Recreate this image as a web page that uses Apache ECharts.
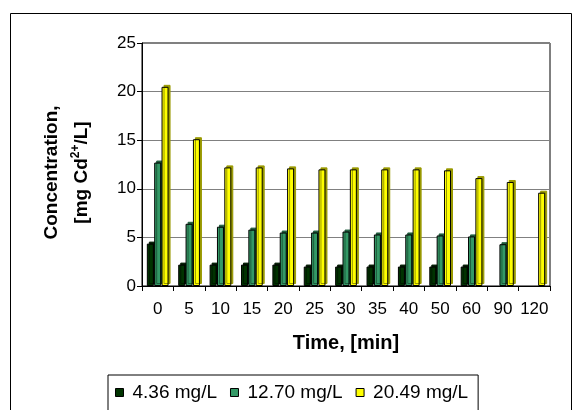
<!DOCTYPE html>
<html>
<head>
<meta charset="utf-8">
<script src="https://cdn.jsdelivr.net/npm/echarts@6/dist/echarts.min.js"></script>
<style>
  html, body { margin: 0; padding: 0; background: #fff; }
  #main { width: 572px; height: 410px; }
</style>
</head>
<body>
<div id="main"></div>
<script>
// time points, [min]
var times = ["0", "5", "10", "15", "20", "25", "30", "35", "40", "50", "60", "90", "120"];
var seriesNames = ["4.36 mg/L", "12.70 mg/L", "20.49 mg/L"];
// Cd2+ concentration, mg/L
var low = [4.36, 2.2, 2.2, 2.2, 2.2, 2.0, 2.0, 2.0, 2.0, 2.0, 2.0, null, null];
var mid = [12.7, 6.4, 6.1, 5.8, 5.5, 5.5, 5.6, 5.3, 5.3, 5.2, 5.1, 4.3, null];
var high = [20.49, 15.1, 12.2, 12.2, 12.1, 12.0, 12.0, 12.0, 12.0, 11.9, 11.1, 10.7, 9.6];
var yTicks = [0, 5, 10, 15, 20, 25];

var colors = ["#003300", "#339966", "#ffff00"];
var sideColors = ["#001a00", "#1f5c3d", "#999900"];

var chartDom = document.getElementById("main");
var myChart = echarts.init(chartDom, null, { renderer: "canvas" });

function bar(name, data, i) {
  return {
    name: name,
    type: "bar",
    data: data,
    barWidth: 7,
    barGap: "5%",
    itemStyle: {
      color: colors[i],
      borderColor: "#000",
      borderWidth: 1,
      shadowColor: sideColors[i],
      shadowBlur: 0,
      shadowOffsetX: 2,
      shadowOffsetY: -2
    }
  };
}

var option = {
  animation: false,
  backgroundColor: "#fff",
  textStyle: { fontFamily: "Liberation Sans, Arial, sans-serif" },
  color: colors,
  graphic: [
    {
      type: "rect",
      left: 8,
      top: 11,
      shape: { width: 561, height: 420 },
      style: { fill: "none", stroke: "#000", lineWidth: 1 },
      silent: true
    }
  ],
  grid: {
    left: 142,
    right: 22,
    top: 43,
    bottom: 124,
    show: true,
    borderColor: "#000",
    borderWidth: 1,
    backgroundColor: "#fff"
  },
  legend: {
    data: seriesNames,
    left: 108,
    top: 375,
    orient: "horizontal",
    itemWidth: 8,
    itemHeight: 8,
    itemGap: 13,
    padding: [8, 10, 30, 7],
    borderColor: "#000",
    borderWidth: 1,
    icon: "rect",
    itemStyle: { borderColor: "#000", borderWidth: 1 },
    textStyle: { fontSize: 19, color: "#000", padding: [0, 0, 0, 4] }
  },
  xAxis: {
    type: "category",
    data: times,
    boundaryGap: true,
    name: "Time, [min]",
    nameLocation: "middle",
    nameGap: 47,
    nameTextStyle: { fontSize: 20, fontWeight: "bold", color: "#000" },
    axisLine: { lineStyle: { color: "#000", width: 1 } },
    axisTick: { show: true, length: 5, lineStyle: { color: "#000" } },
    axisLabel: { fontSize: 17, color: "#000", margin: 15, interval: 0, hideOverlap: false },
    splitLine: { show: false }
  },
  yAxis: {
    type: "value",
    min: yTicks[0],
    max: yTicks[yTicks.length - 1],
    interval: 5,
    name: "{b|Concentration,}\n{b|[mg Cd}{sup|2+}{b|/L]}",
    nameLocation: "middle",
    nameRotate: 90,
    nameGap: 45,
    nameTextStyle: {
      color: "#000",
      padding: [0, 16, 0, 0],
      rich: {
        b: { fontSize: 19, fontWeight: "bold", color: "#000", lineHeight: 30 },
        sup: { fontSize: 12, fontWeight: "bold", color: "#000", verticalAlign: "top", padding: [3, 0, 0, 0] }
      }
    },
    axisLine: { show: true, lineStyle: { color: "#000", width: 1 } },
    axisTick: { show: true, length: 5, lineStyle: { color: "#000" } },
    axisLabel: { fontSize: 17, color: "#000", margin: 6 },
    splitLine: { show: true, lineStyle: { color: "#808080", width: 1 } }
  },
  series: [
    bar(seriesNames[0], low, 0),
    bar(seriesNames[1], mid, 1),
    bar(seriesNames[2], high, 2)
  ]
};

myChart.setOption(option);
</script>
</body>
</html>
